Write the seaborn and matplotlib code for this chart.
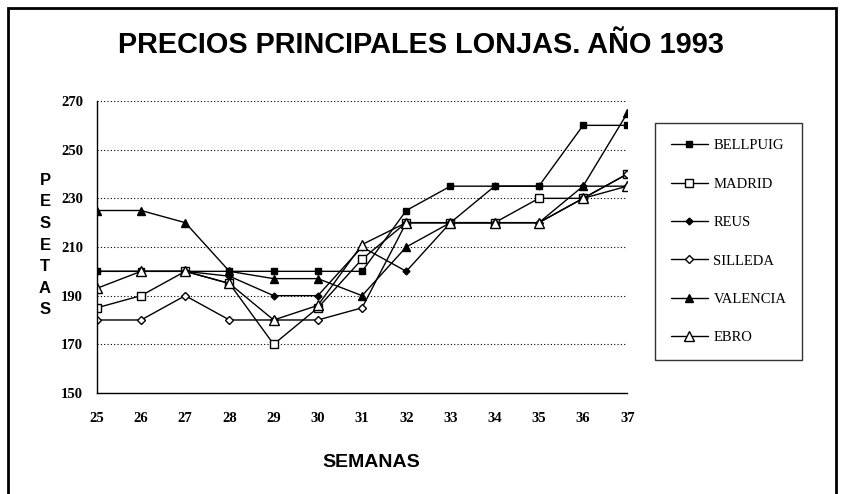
import numpy as np
import pandas as pd
import seaborn as sns
import matplotlib.pyplot as plt
from matplotlib.patches import Rectangle

semanas = list(range(25, 38))

bellpuig = [200, 200, 200, 200, 200, 200, 200, 225, 235, 235, 235, 260, 260]
madrid = [185, 190, 200, 195, 170, 185, 205, 220, 220, 220, 230, 230, 240]
reus = [200, 200, 200, 198, 190, 190, 210, 200, 220, 235, 235, 235, 235]
silleda = [180, 180, 190, 180, 180, 180, 185, 220, 220, 220, 220, 230, 240]
valencia = [225, 225, 220, 200, 197, 197, 190, 210, 220, 220, 220, 235, 265]
ebro = [193, 200, 200, 195, 180, 186, 211, 220, 220, 220, 220, 230, 235]

series = {
    "BELLPUIG": bellpuig,
    "MADRID": madrid,
    "REUS": reus,
    "SILLEDA": silleda,
    "VALENCIA": valencia,
    "EBRO": ebro,
}

# marker, size, filled
estilos = {
    "BELLPUIG": ("s", 4, True),
    "MADRID": ("s", 5.5, False),
    "REUS": ("D", 3.5, True),
    "SILLEDA": ("D", 4.5, False),
    "VALENCIA": ("^", 5.5, True),
    "EBRO": ("^", 7, False),
}

sns.set_style("white")
plt.rcParams['font.family'] = ['Liberation Serif', 'DejaVu Serif']
plt.rcParams['text.color'] = 'black'

fig = plt.figure(figsize=(8.42, 4.94), dpi=100)
ax = fig.add_axes([0.115, 0.2045, 0.63, 0.591])

for nombre, valores in series.items():
    m, ms, lleno = estilos[nombre]
    df = pd.DataFrame({"semana": semanas, "pesetas": valores})
    sns.lineplot(data=df, x="semana", y="pesetas", ax=ax, color="black",
                 linewidth=1.0, marker=m, markersize=ms,
                 markerfacecolor="black" if lleno else "white",
                 markeredgecolor="black", markeredgewidth=1.0, label=nombre)

ax.set_xlim(25, 37)
ax.set_ylim(150, 270)
ax.set_xticks(semanas)
ax.set_yticks(range(150, 271, 20))
ax.yaxis.grid(True, linestyle=(0, (1, 2)), color="black", linewidth=0.8)
ax.xaxis.grid(False)
for s in ["top", "right"]:
    ax.spines[s].set_visible(False)
for s in ["left", "bottom"]:
    ax.spines[s].set_color("black")
    ax.spines[s].set_linewidth(1.0)
ax.tick_params(axis="both", direction="inout", length=8, width=1, colors="black",
               labelsize=10.5)
for lab in ax.get_xticklabels() + ax.get_yticklabels():
    lab.set_fontweight("bold")
ax.tick_params(axis="x", pad=10)
ax.tick_params(axis="y", pad=6)
ax.set_xlabel("")
ax.set_ylabel("")

leg = ax.legend(loc="upper left", bbox_to_anchor=(655 / 842, 1 - 123 / 494),
                bbox_transform=fig.transFigure, frameon=True, fancybox=False,
                edgecolor="black", fontsize=10.5, labelspacing=1.73,
                handlelength=2.5, handletextpad=0.4, borderpad=1.1,
                borderaxespad=0)
leg.get_frame().set_linewidth(1.0)
for t in leg.get_texts():
    t.set_color("black")

fig.text(0.5, 1 - 45 / 494, "PRECIOS PRINCIPALES LONJAS. AÑO 1993",
         ha="center", va="center", fontsize=20.8, fontweight="heavy",
         color="black", family=["Liberation Sans", "DejaVu Sans"])
fig.text(371 / 842, 1 - 462 / 494, "SEMANAS", ha="center", va="center",
         fontsize=14, fontweight="bold", color="black",
         family=["Liberation Sans", "DejaVu Sans"])
fig.text(45 / 842, 1 - 245 / 494, "\n".join("PESETAS"), ha="center", va="center",
         fontsize=12, fontweight="bold", linespacing=1.55, color="black",
         family=["Liberation Sans", "DejaVu Sans"])

fig.patches.append(Rectangle((8 / 842, -0.1), (836 - 8) / 842, 1.1 - 8 / 494,
                             transform=fig.transFigure, fill=False,
                             edgecolor="black", linewidth=2))

fig.savefig("out.png", dpi=100, facecolor="white")
